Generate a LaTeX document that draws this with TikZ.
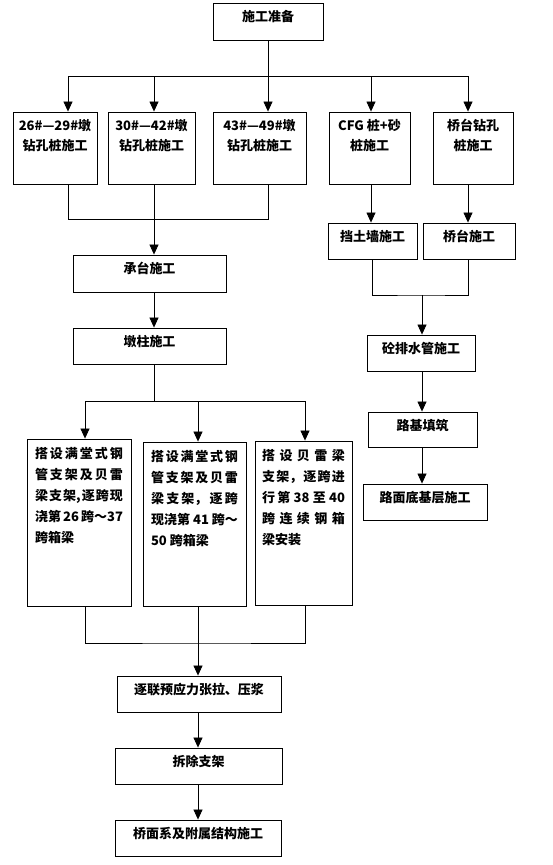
\documentclass[tikz,border=0pt]{standalone}
\usepackage{fontspec}
\setmainfont{Noto Sans CJK SC}
\usetikzlibrary{arrows.meta}
\XeTeXlinebreaklocale "zh"
\XeTeXlinebreakskip=0pt plus 10pt

\newcommand{\boxtext}[3]{\parbox[c][#2][t]{#1}{\vspace*{7.5pt}\centering #3}}
\newcommand{\longtext}[3]{\parbox[c][#2][t]{#1}{\vspace*{8pt}#3}}

\tikzset{
  stepbox/.style={draw, line width=0.9pt, inner sep=0pt, font=\fontsize{13pt}{21pt}\selectfont\bfseries},
  tallbox/.style={stepbox, inner xsep=8pt},
  link/.style={line width=0.7pt},
}

\begin{document}
\begin{tikzpicture}[x=1pt, y=-1pt, >={Triangle[length=10pt,width=9pt]}]
    \useasboundingbox (0,0) rectangle (553,865);

    % --- 施工准备 ---
    \node[stepbox] (prep) at (268,21.5) {\boxtext{110pt}{37pt}{施工准备}};

    % --- 第一排: 桩基施工 ---
    \node[stepbox] (p1) at (55,148)    {\boxtext{84pt}{72pt}{26\#—29\#墩\\[-1pt]钻孔桩施工}};
    \node[stepbox] (p2) at (151.5,148) {\boxtext{87pt}{72pt}{30\#—42\#墩\\[-1pt]钻孔桩施工}};
    \node[stepbox] (p3) at (259.5,148) {\boxtext{93pt}{72pt}{43\#—49\#墩\\[-1pt]钻孔桩施工}};
    \node[stepbox] (p4) at (369.5,148) {\boxtext{81pt}{72pt}{CFG 桩+砂\\[-1pt]桩施工}};
    \node[stepbox] (p5) at (473,148)   {\boxtext{80pt}{72pt}{桥台钻孔\\[-1pt]桩施工}};

    % 分支线
    \coordinate (b1) at (68,76);
    \coordinate (b2) at (154,76);
    \coordinate (b3) at (268,76);
    \coordinate (b4) at (371,76);
    \coordinate (b5) at (468,76);
    \draw[link] (prep.south) -- (b3);
    \draw[link] (b1) -- (b5);
    \foreach \i in {1,...,5}
      \draw[link, ->] (b\i) -- (b\i |- p\i.north);

    % --- 左列: 桥梁 ---
    \node[stepbox] (cap)  at (149.5,273.5) {\boxtext{153pt}{37pt}{承台施工}};
    \node[stepbox] (pier) at (149.5,346)   {\boxtext{153pt}{36pt}{墩柱施工}};

    \coordinate (m1) at (154,219);
    \draw[link] (b1 |- p1.south) |- (m1);
    \draw[link] (b3 |- p3.south) |- (m1);
    \draw[link] (b2 |- p2.south) -- (m1);
    \draw[link, ->] (m1) -- (m1 |- cap.north);
    \draw[link, ->] (m1 |- cap.south) -- (m1 |- pier.north);

    % 箱梁施工 (三列)
    \node[tallbox] (sa) at (79,522.5) {\longtext{88pt}{167pt}{搭设满堂式钢\linebreak 管支架及贝雷\linebreak 梁支架,逐跨现\linebreak 浇第 26 跨～37\linebreak 跨箱梁}};
    \node[tallbox] (sb) at (194.5,524) {\longtext{87pt}{164pt}{搭设满堂式钢\linebreak 管支架及贝雷\linebreak 梁支架，逐跨\linebreak 现浇第 41 跨～\linebreak 50 跨箱梁}};
    \node[tallbox, inner xsep=7pt] (sc) at (303.5,523) {\longtext{83pt}{164pt}{搭设贝雷梁\linebreak 支架，逐跨进\linebreak 行第 38 至 40\linebreak 跨连续钢箱\linebreak 梁安装}};

    \coordinate (d1) at (85,401);
    \coordinate (d2) at (198,401);
    \coordinate (d3) at (305,401);
    \draw[link] (m1 |- pier.south) -- (m1 |- d1);
    \draw[link] (d1) -- (d3);
    \foreach \d/\s in {d1/sa, d2/sb, d3/sc}
      \draw[link, ->] (\d) -- (\d |- \s.north);

    % --- 合并后 ---
    \node[stepbox] (stress) at (199,694)   {\boxtext{164pt}{36pt}{逐联预应力张拉、压浆}};
    \node[stepbox] (remove) at (198.5,766) {\boxtext{167pt}{36pt}{拆除支架}};
    \node[stepbox] (deck)   at (198,838)   {\boxtext{166pt}{36pt}{桥面系及附属结构施工}};

    \coordinate (m4) at (198,643);
    \draw[link] (d1 |- sa.south) |- (m4) -| (d3 |- sc.south);
    \draw[link, ->] (d2 |- sb.south) -- (d2 |- stress.north);
    \draw[link, ->] (d2 |- stress.south) -- (d2 |- remove.north);
    \draw[link, ->] (d2 |- remove.south) -- (d2 |- deck.north);

    % --- 右列: 路基 ---
    \node[stepbox] (wall)     at (372.5,241) {\boxtext{89pt}{36pt}{挡土墙施工}};
    \node[stepbox] (abut)     at (469,241)   {\boxtext{92pt}{36pt}{桥台施工}};
    \node[stepbox] (drain)    at (421,353)   {\boxtext{108pt}{36pt}{砼排水管施工}};
    \node[stepbox] (subgrade) at (422.5,429.5) {\boxtext{109pt}{35pt}{路基填筑}};
    \node[stepbox] (base)     at (425,502)   {\boxtext{124pt}{36pt}{路面底基层施工}};

    \draw[link, ->] (b4 |- p4.south) -- (b4 |- wall.north);
    \draw[link, ->] (b5 |- p5.south) -- (b5 |- abut.north);
    \coordinate (m2) at (422,295);
    \draw[link] (wall.south) |- (m2) -| (b5 |- abut.south);
    \draw[link, ->] (m2) -- (m2 |- drain.north);
    \draw[link, ->] (m2 |- drain.south) -- (m2 |- subgrade.north);
    \draw[link, ->] (m2 |- subgrade.south) -- (m2 |- base.north);
\end{tikzpicture}
\end{document}
